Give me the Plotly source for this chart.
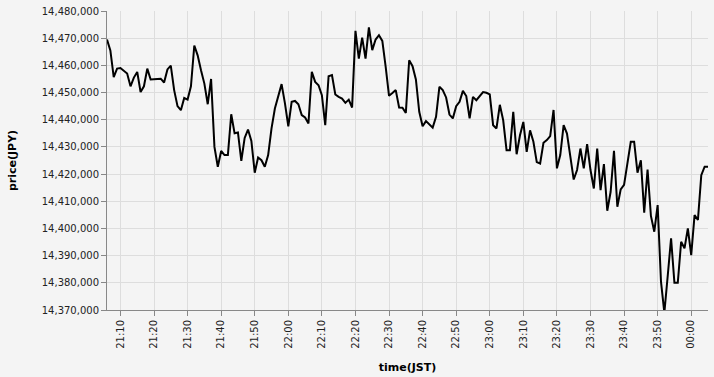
import plotly.graph_objects as go
import pandas as pd

start_time = "2024-01-01 21:06"
n_minutes = 180

prices = [
    14469500, 14465500, 14455700, 14458800, 14459000, 14458000, 14457000, 14452300, 14455500, 14457600,
    14450200, 14452300, 14458800, 14454800, 14454800, 14455000, 14455100, 14453700, 14458500, 14459900,
    14450900, 14445000, 14443500, 14448000, 14447400, 14452300, 14467300, 14463700, 14458200, 14453300,
    14445700, 14455000, 14430000, 14422700, 14428500, 14427000, 14427000, 14442000, 14435000, 14435300,
    14424900, 14433300, 14436400, 14432200, 14420500, 14426100, 14425100, 14422700, 14427000, 14436800,
    14444100, 14448400, 14453100, 14446000, 14437600, 14446600, 14446900, 14445700, 14441700, 14440800,
    14438600, 14457600, 14453900, 14452700, 14449000, 14438000, 14456000, 14456400, 14449300, 14448400,
    14447800, 14446200, 14447400, 14444500, 14472700, 14462500, 14470200, 14462500, 14474000, 14465600,
    14469500, 14471100, 14469000, 14459400, 14448800, 14449800, 14450900, 14444500, 14444400, 14442500,
    14461900, 14459700, 14454800, 14442900, 14437600, 14439500, 14438400, 14437100, 14441100, 14452100,
    14450900, 14448200, 14441900, 14440500, 14445000, 14446600, 14450600, 14448700, 14440500, 14448400,
    14447200, 14448700, 14450200, 14449900, 14449300, 14438000, 14436800, 14445500, 14439800, 14428800,
    14428800, 14442900, 14427300, 14434300, 14439200, 14428200, 14436100, 14431900, 14424400, 14423900,
    14431500, 14432500, 14434000, 14443600, 14422100, 14427000, 14438000, 14434900, 14426300, 14418000,
    14421500, 14429400, 14422100, 14431000, 14421500, 14414700, 14429400, 14414100, 14423700, 14406500,
    14413500, 14428600, 14408000, 14414400, 14416000, 14423700, 14431900, 14431900, 14420500, 14425100,
    14405800, 14421700, 14404600, 14398800, 14408600, 14380400, 14369000, 14382500, 14396400, 14380000,
    14380000, 14395100, 14392700, 14400000, 14390200, 14404900, 14403100, 14419600, 14422700, 14422700,
]

times = pd.date_range(start_time, periods=n_minutes, freq="1min")

y_ticks = list(range(14370000, 14480001, 10000))

font_family = "DejaVu Sans"
bg = "#f4f4f4"

fig = go.Figure()
fig.add_trace(go.Scatter(
    x=times, y=prices, mode="lines",
    line=dict(color="black", width=2),
    hoverinfo="skip",
))

fig.update_layout(
    width=714, height=377,
    margin=dict(l=107, r=6, t=11, b=67),
    paper_bgcolor=bg, plot_bgcolor=bg,
    showlegend=False,
    font=dict(family=font_family, size=10, color="#222"),
)

fig.update_xaxes(
    range=[times[0], times[-1]],
    tickformat="%H:%M",
    tick0="2024-01-01 21:10",
    dtick=600000,
    tickangle=-90,
    ticks="outside", ticklen=5, tickcolor="#888",
    showgrid=True, gridcolor="#dddddd", gridwidth=1,
    showline=True, linecolor="#888", linewidth=1,
    zeroline=False,
    automargin=False,
    title=dict(text="<b>time(JST)</b>", font=dict(size=11, color="#000", family=font_family), standoff=15),
)

fig.update_yaxes(
    range=[14370000, 14480000],
    tickvals=y_ticks,
    tickformat=",d",
    ticks="outside", ticklen=5, tickcolor="#888",
    showgrid=True, gridcolor="#dddddd", gridwidth=1,
    showline=True, linecolor="#888", linewidth=1,
    zeroline=False,
    automargin=False,
    title=dict(text="<b>price(JPY)</b>", font=dict(size=11, color="#000", family=font_family), standoff=22),
)

fig.write_html("out.html")
